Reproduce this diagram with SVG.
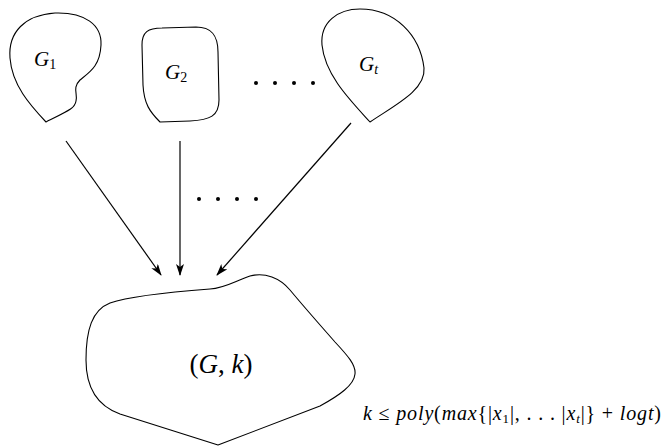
<svg xmlns="http://www.w3.org/2000/svg" width="664" height="446" viewBox="0 0 664 446">
<style>
.shape{fill:none;stroke:#000;stroke-width:1.1;stroke-linejoin:round}
.edge{fill:none;stroke:#000;stroke-width:1.2}
.lbl{font-family:"Liberation Serif",serif;font-style:italic;fill:#000}
.up{font-style:normal}
.dot{fill:#000}
</style>
<defs>
<marker id="ah" viewBox="0 0 12 8" refX="11" refY="4" markerWidth="12" markerHeight="8" markerUnits="userSpaceOnUse" orient="auto">
<path d="M0,0 L12,4 L0,8 L3,4 Z" fill="#000"/>
</marker>
</defs>
<g id="G1">
<path class="shape" d="M46,122 C30,105 12,85 10,58 C8,32 25,15 55,13 C85,12 102,25 101,45 C100,66 90,72 80,80 C72,88 78,94 76,101 C75,108 70,110 46,122 Z"/>
<text class="lbl" x="34" y="66" font-size="21">G<tspan font-size="14" dy="3" class="up">1</tspan></text>
</g>
<g id="G2">
<path class="shape" d="M160,122 C150,112 144,104 143,85 L142,45 C142,32 148,28 162,28 L196,27 C212,27 218,36 218,52 L219,100 C219,116 210,120 190,121 Z"/>
<text class="lbl" x="165" y="79" font-size="21">G<tspan font-size="14" dy="3" class="up">2</tspan></text>
</g>
<g id="Gt">
<path class="shape" d="M370,122 C350,100 325,75 322,45 C320,22 338,9 360,9 C395,9 420,35 424,68 C426,90 395,105 370,122 Z"/>
<text class="lbl" x="359" y="71" font-size="21">G<tspan font-size="14" dy="3">t</tspan></text>
</g>
<g id="dots-top">
<circle class="dot" cx="256" cy="83" r="2"/>
<circle class="dot" cx="275" cy="83" r="2"/>
<circle class="dot" cx="294" cy="83" r="2"/>
<circle class="dot" cx="313" cy="83" r="2"/>
</g>
<g id="dots-mid">
<circle class="dot" cx="199" cy="199" r="2"/>
<circle class="dot" cx="218" cy="199" r="2"/>
<circle class="dot" cx="237" cy="199" r="2"/>
<circle class="dot" cx="256" cy="199" r="2"/>
</g>
<g id="connectors">
<line class="edge" x1="66" y1="141" x2="161" y2="275" marker-end="url(#ah)"/>
<line class="edge" x1="180" y1="141" x2="180" y2="275" marker-end="url(#ah)"/>
<line class="edge" x1="351" y1="123" x2="217" y2="275" marker-end="url(#ah)"/>
</g>
<g id="Gk">
<path class="shape" d="M218,445 L120,414 C95,405 86,385 86,360 C86,330 92,310 110,303 C130,296 170,292 210,289 C225,288 235,281 250,276 C265,272 280,278 290,290 C305,308 320,325 335,342 C348,356 356,365 355,374 C354,385 340,395 320,406 L218,445 Z"/>
<text class="lbl" x="221" y="373" font-size="27" text-anchor="middle"><tspan class="up">(</tspan>G<tspan class="up">, </tspan>k<tspan class="up">)</tspan></text>
</g>
<g id="bound">
<text class="lbl" x="363" y="420" font-size="20" textLength="298" lengthAdjust="spacing">k <tspan class="up">≤</tspan> poly<tspan class="up">(</tspan>max<tspan class="up">{|</tspan>x<tspan font-size="13" dy="3" class="up">1</tspan><tspan dy="-3" class="up">|, . . . |</tspan>x<tspan font-size="13" dy="3">t</tspan><tspan dy="-3" class="up">|} + </tspan>logt<tspan class="up">)</tspan></text>
</g>
</svg>
